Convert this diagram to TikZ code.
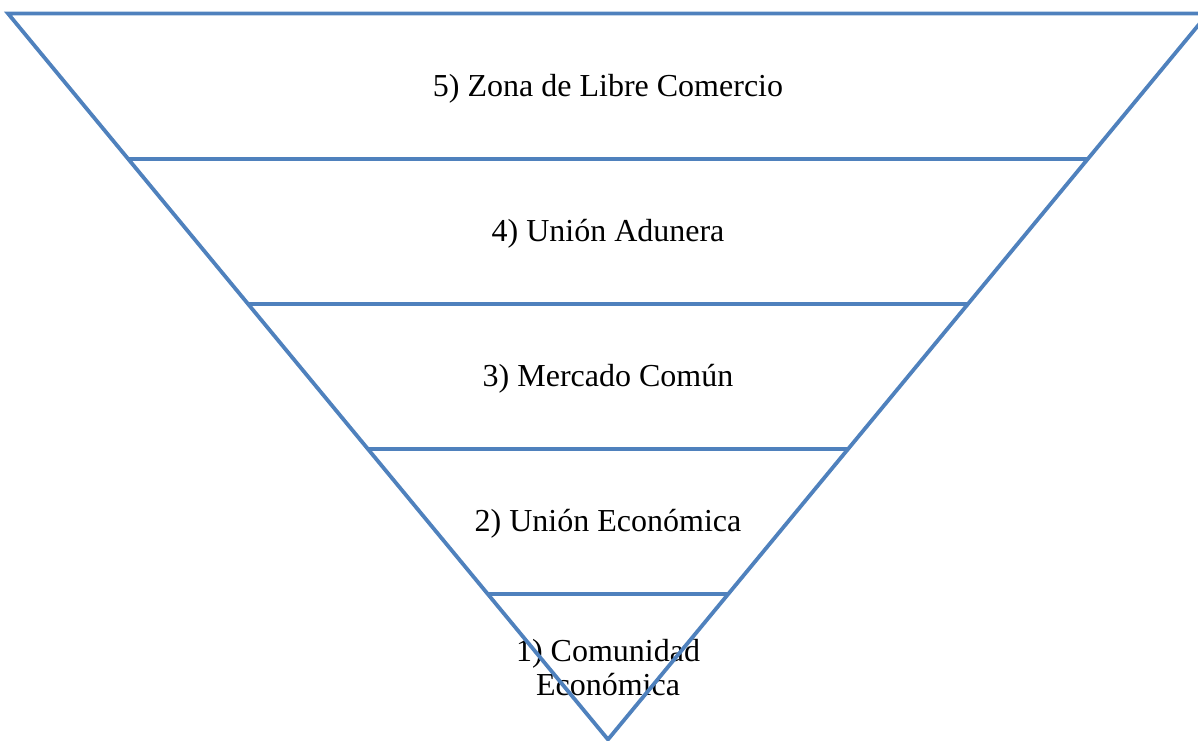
\documentclass[tikz,border=0pt]{standalone}
\usepackage{fontspec}
\setmainfont{Liberation Serif}
\usetikzlibrary{calc}
\definecolor{levelblue}{RGB}{79,129,189}
\tikzset{
x=1pt, y=-1pt, % one unit per pixel, y grows downwards
edge line/.style={draw=levelblue, line width=3.8pt}, % the blue lines of the funnel
level text/.style={font=\fontsize{32}{34}\selectfont, align=center, text=black}, % the labels of the levels
}

\begin{document}
\begin{tikzpicture}
        \useasboundingbox (0,0) rectangle (1198,740);
        \coordinate (tl) at (8,13.5);
        \coordinate (tr) at (1208,13.5);
        \coordinate (ap) at (608,739.5);

        \node[level text] (l5) at (608,88.5) {5) Zona de Libre Comercio};
        \node[level text] (l4) at (608,234) {4) Unión Adunera};
        \node[level text] (l3) at (608,379) {3) Mercado Común};
        \node[level text] (l2) at (608,524) {2) Unión Económica};
        \node[level text] (l1) at (608,668) {1) Comunidad\\Económica};

        \draw[edge line] (tl) -- (tr) -- (ap) -- cycle;
        \foreach \k in {1,2,3,4} {
            \coordinate (a\k) at ($(tl)!\k/5!(ap)$);
            \coordinate (b\k) at ($(tr)!\k/5!(ap)$);
            \draw[edge line] (a\k) -- (b\k);
        }
    \end{tikzpicture}
\end{document}
